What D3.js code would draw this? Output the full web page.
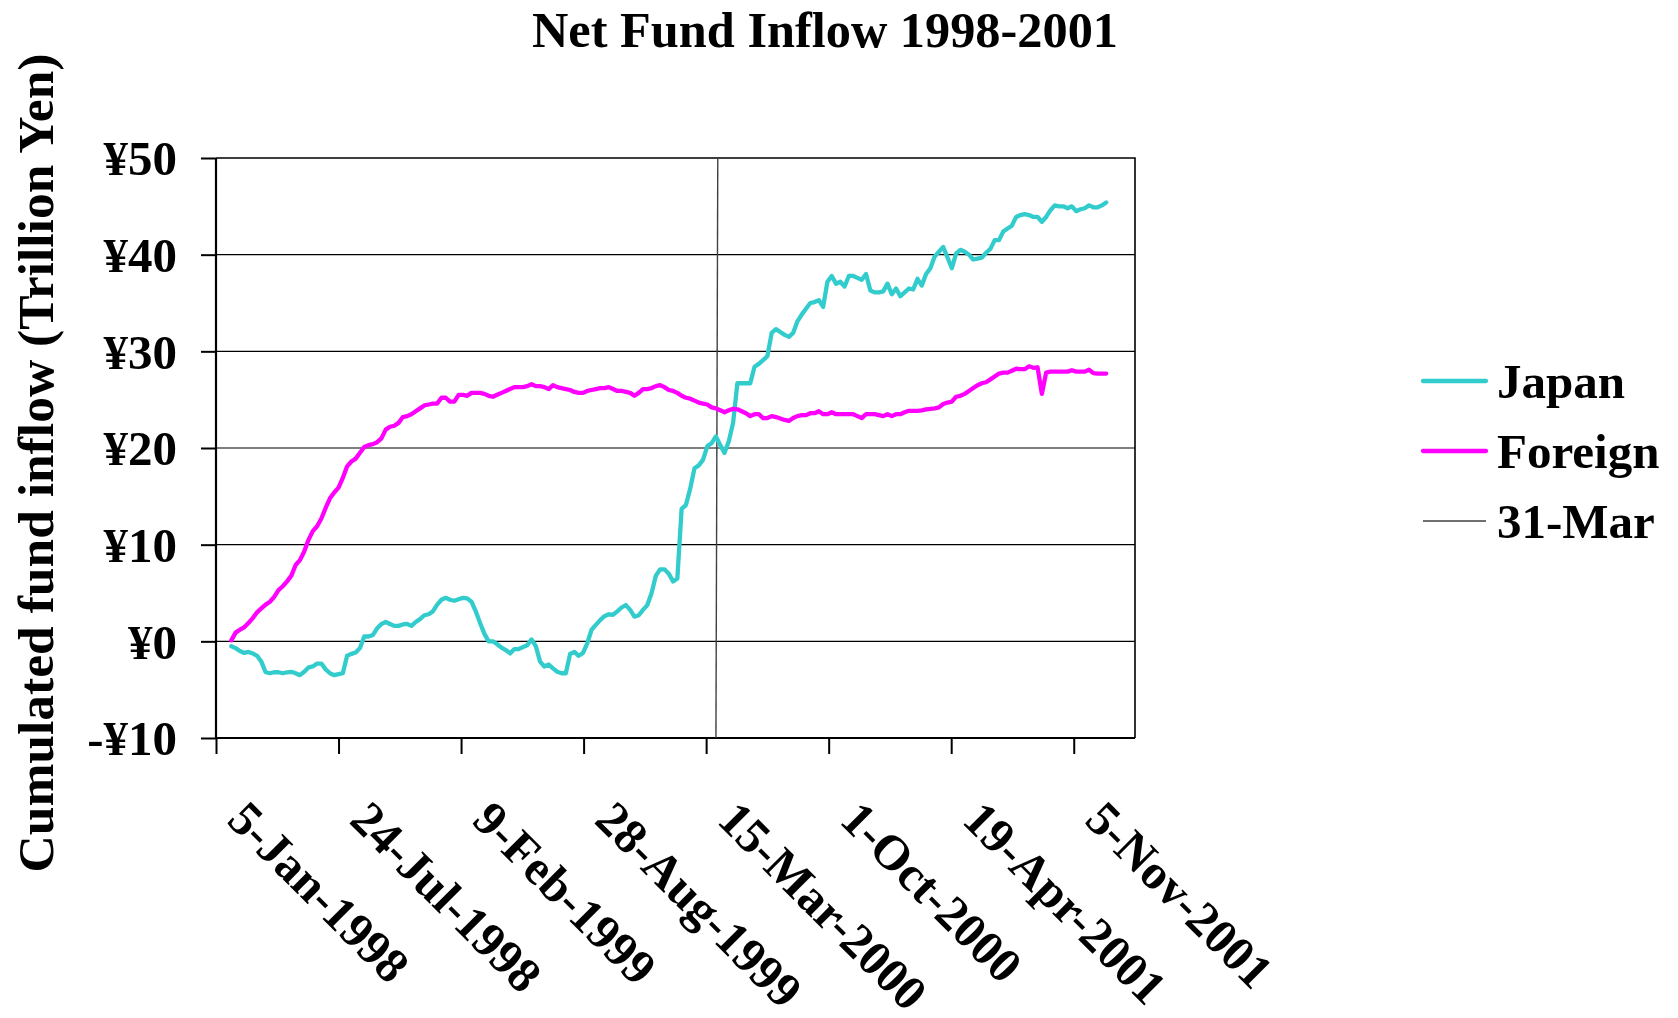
<!DOCTYPE html>
<meta charset="utf-8">
<style>
body { margin: 0; background: #fff; }
text { font-family: "Liberation Serif", "Times New Roman", serif; font-weight: bold; fill: #000; }
.grid line { stroke: #000; stroke-width: 1.2; }
</style>
<body>
<script src="https://cdnjs.cloudflare.com/ajax/libs/d3/7.8.5/d3.min.js"></script>
<script>

// x axis tick labels (every 200 days) and y ticks
var tickLabels = ["5-Jan-1998", "24-Jul-1998", "9-Feb-1999", "28-Aug-1999",
                  "15-Mar-2000", "1-Oct-2000", "19-Apr-2001", "5-Nov-2001"];
var yTicks = [-10, 0, 10, 20, 30, 40, 50];
var seriesNames = ["Japan", "Foreign", "31-Mar"];

// weekly observations, first one on this date
var firstWeek = "30-Jan-1998";

// cumulated net inflow, trillion yen
var japan = [
  -0.5, -0.7, -1.0, -1.2, -1.1, -1.25, -1.5, -2.1, -3.2, -3.3,
  -3.2, -3.2, -3.3, -3.2, -3.15, -3.3, -3.5, -3.15, -2.7, -2.6,
  -2.3, -2.3, -2.9, -3.3, -3.5, -3.4, -3.3, -1.5, -1.3, -1.15,
  -0.7, 0.5, 0.5, 0.65, 1.35, 1.8, 2.0, 1.8, 1.6, 1.6,
  1.75, 1.8, 1.6, 2.0, 2.3, 2.7, 2.8, 3.1, 3.8, 4.3,
  4.5, 4.3, 4.2, 4.35, 4.5, 4.45, 4.1, 3.1, 1.9, 0.8,
  0.0, 0.0, -0.3, -0.65, -0.9, -1.25, -0.8, -0.8, -0.6, -0.4,
  0.2, -0.5, -2.1, -2.6, -2.4, -2.8, -3.15, -3.3, -3.3, -1.3,
  -1.1, -1.5, -1.2, -0.2, 1.2, 1.7, 2.2, 2.6, 2.8, 2.75,
  3.1, 3.5, 3.75, 3.25, 2.55, 2.7, 3.25, 3.75, 5.0, 6.8,
  7.45, 7.45, 7.0, 6.2, 6.5, 13.7, 14.1, 15.8, 17.9, 18.2,
  18.8, 20.2, 20.5, 21.2, 20.3, 19.5, 20.7, 22.6, 26.7, 26.7,
  26.7, 26.7, 28.4, 28.7, 29.1, 29.5, 31.9, 32.3, 32.0, 31.7,
  31.5, 31.9, 33.1, 33.8, 34.4, 35.0, 35.1, 35.3, 34.6, 37.2,
  37.8, 37.0, 37.2, 36.7, 37.8, 37.8, 37.6, 37.4, 38.0, 36.3,
  36.1, 36.1, 36.2, 37.0, 35.9, 36.5, 35.7, 36.1, 36.5, 36.4,
  37.5, 36.8, 38.0, 38.6, 39.8, 40.3, 40.8, 39.7, 38.6, 40.1,
  40.5, 40.3, 40.0, 39.5, 39.6, 39.7, 40.2, 40.6, 41.5, 41.5,
  42.4, 42.7, 43.0, 43.9, 44.1, 44.2, 44.1, 43.9, 43.9, 43.4,
  43.9, 44.6, 45.1, 45.0, 45.0, 44.8, 45.0, 44.5, 44.7, 44.8,
  45.1, 44.9, 44.9, 45.1, 45.4
];

var foreign = [
  0.1, 0.9, 1.2, 1.45, 1.9, 2.4, 3.0, 3.4, 3.8, 4.1,
  4.6, 5.3, 5.7, 6.2, 6.8, 7.9, 8.4, 9.3, 10.5, 11.4,
  11.9, 12.7, 13.8, 14.8, 15.4, 15.9, 16.9, 18.1, 18.6, 18.9,
  19.5, 20.1, 20.3, 20.4, 20.6, 21.0, 21.9, 22.2, 22.3, 22.6,
  23.2, 23.3, 23.5, 23.8, 24.1, 24.4, 24.5, 24.6, 24.6, 25.2,
  25.2, 24.8, 24.8, 25.5, 25.5, 25.4, 25.7, 25.7, 25.7, 25.6,
  25.4, 25.3, 25.5, 25.7, 25.9, 26.1, 26.3, 26.3, 26.3, 26.4,
  26.6, 26.4, 26.4, 26.3, 26.1, 26.5, 26.3, 26.2, 26.1, 26.0,
  25.8, 25.7, 25.7, 25.9, 26.0, 26.1, 26.2, 26.2, 26.3, 26.1,
  25.9, 25.9, 25.8, 25.7, 25.4, 25.7, 26.1, 26.1, 26.2, 26.4,
  26.5, 26.3, 26.0, 25.9, 25.7, 25.4, 25.2, 25.1, 24.9, 24.7,
  24.6, 24.5, 24.2, 24.1, 23.9, 23.7, 23.9, 24.05, 24.0, 23.8,
  23.6, 23.3, 23.5, 23.5, 23.1, 23.1, 23.3, 23.2, 23.05, 22.9,
  22.8, 23.1, 23.3, 23.4, 23.4, 23.6, 23.6, 23.8, 23.5, 23.5,
  23.7, 23.5, 23.5, 23.5, 23.5, 23.5, 23.3, 23.1, 23.5, 23.5,
  23.5, 23.4, 23.3, 23.5, 23.3, 23.5, 23.5, 23.7, 23.85, 23.85,
  23.85, 23.9, 24.0, 24.05, 24.1, 24.2, 24.55, 24.7, 24.8, 25.3,
  25.4, 25.6, 25.9, 26.2, 26.5, 26.7, 26.8, 27.1, 27.4, 27.7,
  27.8, 27.8, 28.0, 28.2, 28.15, 28.15, 28.45, 28.3, 28.35, 25.6,
  27.8, 27.9, 27.9, 27.9, 27.9, 27.9, 28.05, 27.9, 27.9, 27.9,
  28.1, 27.75, 27.7, 27.7, 27.7
];

// fiscal year end marker
var marchDates = ["31-Mar-2000", "3-Apr-2000"];
var marchValues = [-10, 50];

var colors = ["#33cccc", "#ff00ff", "#404040"];

var width = 1678,
    height = 1018;

var parse = d3.utcParse("%d-%b-%Y");
var tickDates = tickLabels.map(parse);
var start = tickDates[0];

var x = d3.scaleUtc()
    .domain([start, d3.utcDay.offset(start, 1500)])
    .range([216, 1135]);

var y = d3.scaleLinear()
    .domain([-10, 50])
    .range([738, 158]);

var weeks = japan.map(function(d, i) { return d3.utcDay.offset(parse(firstWeek), i * 7); });

var svg = d3.select("body").append("svg")
    .attr("width", width)
    .attr("height", height)
    .style("background", "#fff");

// title
svg.append("text")
    .attr("x", 825)
    .attr("y", 47)
    .attr("text-anchor", "middle")
    .attr("textLength", 586)
    .attr("lengthAdjust", "spacingAndGlyphs")
    .style("font-size", "50px")
    .text("Net Fund Inflow 1998-2001");

// y axis title
svg.append("text")
    .attr("transform", "translate(53,463) rotate(-90)")
    .attr("text-anchor", "middle")
    .attr("textLength", 819)
    .attr("lengthAdjust", "spacingAndGlyphs")
    .style("font-size", "50px")
    .text("Cumulated fund inflow (Trillion Yen)");

// gridlines
svg.append("g")
    .attr("class", "grid")
  .selectAll("line")
    .data(yTicks.filter(function(d) { return d > -10 && d < 50; }))
  .enter().append("line")
    .attr("x1", x.range()[0])
    .attr("x2", x.range()[1])
    .attr("y1", function(d) { return y(d); })
    .attr("y2", function(d) { return y(d); });

// plot frame (top + right)
svg.append("path")
    .attr("d", "M" + x.range()[0] + "," + y(50) + "H" + x.range()[1] + "V" + y(-10))
    .attr("fill", "none")
    .attr("stroke", "#000")
    .attr("stroke-width", 1.6);

// y axis
var yAxis = svg.append("g")
    .attr("transform", "translate(" + x.range()[0] + ",0)")
    .call(d3.axisLeft(y).tickValues(yTicks).tickSize(15).tickFormat(function(d) {
      return (d < 0 ? "-" : "") + "\u00a5" + Math.abs(d);
    }));
yAxis.select(".domain").attr("stroke-width", 2.2).attr("d", "M0," + y(-10) + "V" + y(50));
yAxis.selectAll(".tick line").attr("stroke-width", 2);
yAxis.selectAll(".tick text")
    .attr("x", 177 - x.range()[0])
    .attr("dy", "0.34em")
    .style("font-size", "49px")
    .style("font-family", "Liberation Serif")
    .style("font-weight", "bold")
    .attr("fill", "#000");

// x axis
var xAxis = svg.append("g")
    .attr("transform", "translate(0," + y(-10) + ")")
    .call(d3.axisBottom(x).tickValues(tickDates).tickSize(16).tickFormat(function(d, i) { return tickLabels[i]; }));
xAxis.select(".domain").attr("stroke-width", 2.2).attr("d", "M" + x.range()[0] + ",0H" + x.range()[1]);
xAxis.selectAll(".tick line").attr("stroke-width", 2);
xAxis.selectAll(".tick text")
    .attr("y", 0)
    .attr("dy", 0)
    .attr("text-anchor", "start")
    .attr("transform", "translate(9,84) rotate(45)")
    .style("font-size", "49px")
    .style("font-family", "Liberation Serif")
    .style("font-weight", "bold")
    .attr("fill", "#000");

// series lines
var line = d3.line()
    .x(function(d) { return x(d[0]); })
    .y(function(d) { return y(d[1]); });

svg.append("path")
    .datum(marchDates.map(function(d, i) { return [parse(d), marchValues[i]]; }))
    .attr("fill", "none")
    .attr("stroke", colors[2])
    .attr("stroke-width", 1.4)
    .attr("d", line);

[japan, foreign].forEach(function(s, k) {
  svg.append("path")
      .datum(s.map(function(v, i) { return [weeks[i], v]; }))
      .attr("fill", "none")
      .attr("stroke", colors[k])
      .attr("stroke-width", 4.3)
      .attr("stroke-linejoin", "round")
      .attr("stroke-linecap", "round")
      .attr("d", line);
});

// legend
var legend = svg.append("g")
    .selectAll("g")
    .data(seriesNames)
  .enter().append("g")
    .attr("transform", function(d, i) { return "translate(1423," + (381 + i * 70) + ")"; });

legend.append("line")
    .attr("x2", 63)
    .attr("stroke", function(d, i) { return colors[i]; })
    .attr("stroke-width", function(d, i) { return i < 2 ? 4.3 : 1.4; })
    .attr("stroke-linecap", function(d, i) { return i < 2 ? "round" : "butt"; });

legend.append("text")
    .attr("x", 74)
    .attr("y", 17)
    .style("font-size", "49px")
    .text(function(d) { return d; });

</script>
